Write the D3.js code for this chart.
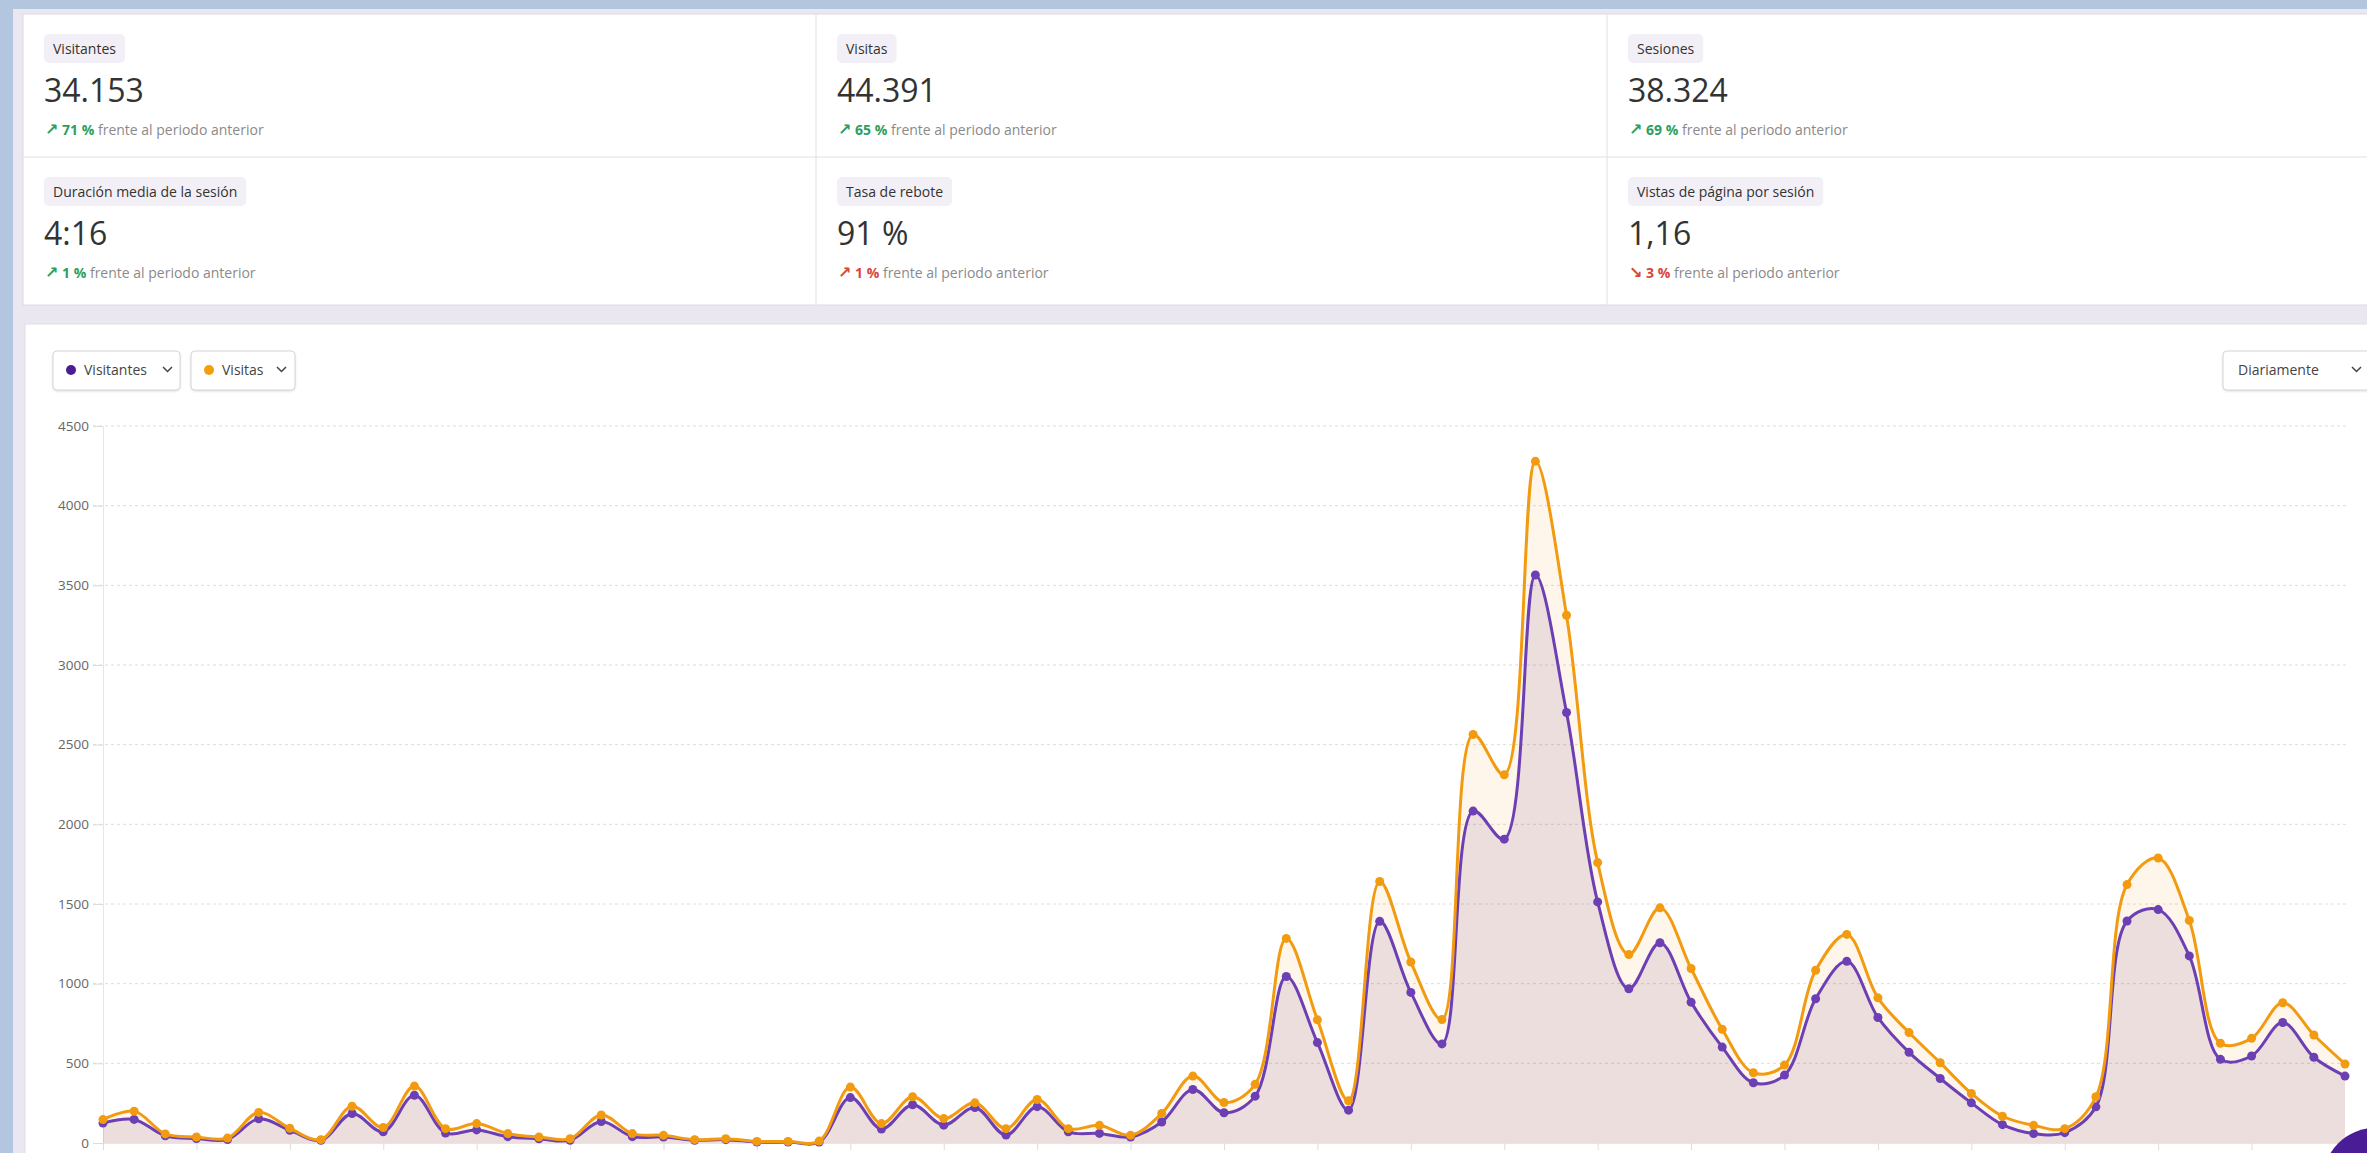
<!DOCTYPE html>
<html>
<head>
<meta charset="utf-8">
<script src="https://cdn.jsdelivr.net/npm/d3@7"></script>
<style>
html, body { margin: 0; padding: 0; background: #b3c6df; overflow: hidden; }
svg { display: block; font-family: "Open Sans", "Noto Sans", sans-serif; }
</style>
</head>
<body>
<svg width="2367" height="1153"></svg>
<script>
// daily values
var days = [1,2,3,4,5,6,7,8,9,10,11,12,13,14,15,16,17,18,19,20,21,22,23,24,25,26,27,28,29,30,
  31,32,33,34,35,36,37,38,39,40,41,42,43,44,45,46,47,48,49,50,51,52,53,54,55,56,57,58,59,60,
  61,62,63,64,65,66,67,68,69,70,71,72,73];

var visitantes = [125,148,45,28,22,152,80,17,185,70,300,63,82,40,27,17,135,40,38,17,
  21,6,6,6,285,88,240,112,223,50,228,70,60,38,132,336,190,294,1045,630,
  206,1391,945,622,2083,1907,3565,2702,1513,968,1257,884,602,378,426,905,1140,788,569,405,
  252,115,59,65,227,1393,1465,1174,525,546,756,538,420];

var visitas = [147,200,57,38,31,192,92,21,231,97,357,90,122,59,38,27,176,59,48,21,
  27,10,10,12,351,122,290,153,252,90,273,90,111,48,185,420,254,368,1284,773,
  265,1641,1136,775,2564,2311,4278,3312,1760,1183,1476,1095,714,441,489,1084,1309,911,693,504,
  311,168,111,90,290,1622,1789,1397,626,657,880,678,496];

var yTicks = [0,500,1000,1500,2000,2500,3000,3500,4000,4500];

var kpiLabels = ["Visitantes","Visitas","Sesiones","Duración media de la sesión","Tasa de rebote","Vistas de página por sesión"];
var kpiValues = ["34.153","44.391","38.324","4:16","91 %","1,16"];
var kpiChange = ["71 %","65 %","69 %","1 %","1 %","3 %"];
var kpiUp = [true,true,true,true,true,false];
var kpiGood = [true,true,true,true,false,false];

var purple = "#6c3fb4",
    orange = "#f29b11";

var svg = d3.select("svg");

// page frame
svg.append("rect").attr("x", 13).attr("y", 9).attr("width", 2400).attr("height", 1200).attr("fill", "#ebe7f1");

// ---- KPI cards ----
var cardX = [23, 816, 1607],
    rowY = [14, 157];

svg.append("rect")
    .attr("x", 23).attr("y", 14).attr("width", 2400).attr("height", 291)
    .attr("fill", "#fff").attr("stroke", "#dedae5");
svg.append("line").attr("x1", 23).attr("x2", 2400).attr("y1", 157).attr("y2", 157).attr("stroke", "#e2dee8");
[816, 1607].forEach(function(xx) {
    svg.append("line").attr("x1", xx).attr("x2", xx).attr("y1", 14).attr("y2", 305).attr("stroke", "#e2dee8");
});

kpiLabels.forEach(function(label, i) {
    var col = i % 3, row = Math.floor(i / 3);
    var g = svg.append("g")
        .attr("transform", "translate(" + (cardX[col] + 21) + "," + rowY[row] + ")");

    var pill = g.append("rect")
        .attr("y", 20).attr("height", 29).attr("rx", 5)
        .attr("fill", "#f2f0f6");
    var t = g.append("text")
        .attr("x", 9).attr("y", 40)
        .attr("font-size", 14).attr("fill", "#333")
        .text(label);
    pill.attr("width", t.node().getComputedTextLength() + 18);

    g.append("text")
        .attr("x", 0).attr("y", 88)
        .attr("font-size", 32).attr("fill", "#333")
        .text(kpiValues[i]);

    var col2 = kpiGood[i] ? "#2c9f5e" : "#d9463b";
    var ch = g.append("text").attr("x", 1).attr("y", 121).attr("font-size", 14);
    ch.append("tspan").attr("fill", col2).attr("font-family", "DejaVu Sans")
        .attr("font-size", 16).attr("font-weight", 700)
        .text(kpiUp[i] ? "↗" : "↘");
    ch.append("tspan").attr("fill", col2).attr("font-weight", 700).text(" " + kpiChange[i]);
    ch.append("tspan").attr("fill", "#8a8a8a").text(" frente al periodo anterior");
});

// ---- chart card ----
svg.append("rect")
    .attr("x", 25).attr("y", 324).attr("width", 2400).attr("height", 900)
    .attr("fill", "#fff").attr("stroke", "#e2dee8");

function button(x0, w, label, dot, chevX) {
    var b = svg.append("g");
    b.append("rect")
        .attr("x", x0).attr("y", 351).attr("width", w).attr("height", 39).attr("rx", 4)
        .attr("fill", "#fff").attr("stroke", "#d6d6d6")
        .style("filter", "drop-shadow(0px 1px 1px rgba(0,0,0,0.12))");
    var tx = x0 + 15;
    if (dot) {
        b.append("circle").attr("cx", x0 + 18).attr("cy", 370).attr("r", 5).attr("fill", dot);
        tx = x0 + 31;
    }
    b.append("text").attr("x", tx).attr("y", 375)
        .attr("font-size", 14).attr("fill", "#444").text(label);
    b.append("path")
        .attr("d", "M" + chevX + ",367 l4.5,4.5 l4.5,-4.5")
        .attr("fill", "none").attr("stroke", "#444").attr("stroke-width", 1.5);
}
button(53, 127, "Visitantes", "#4a1d96", 163);
button(191, 104, "Visitas", "#f59e0b", 277);
button(2223, 170, "Diariamente", null, 2352);

// ---- plot ----
var x = d3.scalePoint().domain(days).range([103, 2345]);
var y = d3.scaleLinear().domain([0, 4500]).range([1143, 426]);

var grid = svg.append("g");
grid.selectAll("line")
    .data(yTicks.filter(function(d) { return d > 0; }))
    .enter().append("line")
    .attr("x1", 93).attr("x2", 2347)
    .attr("y1", function(d) { return y(d); })
    .attr("y2", function(d) { return y(d); })
    .attr("stroke", "#dcdcdc")
    .attr("stroke-dasharray", "3,3");

var yAxis = svg.append("g")
    .attr("transform", "translate(103,0)")
    .call(d3.axisLeft(y).tickValues(yTicks).tickSize(10).tickPadding(4).tickFormat(d3.format("d")));
yAxis.select(".domain").attr("stroke", "#e6e6e6");
yAxis.selectAll(".tick line").attr("stroke", "#dcdcdc");
yAxis.selectAll("text")
    .attr("font-family", "Open Sans, sans-serif")
    .attr("font-size", 13.5).attr("fill", "#666");

var xAxis = svg.append("g")
    .attr("transform", "translate(0," + y(0) + ")")
    .call(d3.axisBottom(x)
        .tickValues(days.filter(function(d, i) { return i % 3 === 0; }))
        .tickSize(7).tickFormat(""));
xAxis.select(".domain").attr("stroke", "#e6e6e6");
xAxis.selectAll(".tick line").attr("stroke", "#dcdcdc");

var curve = d3.curveCatmullRom.alpha(0.5);

function area(vals) {
    return d3.area()
        .x(function(d, i) { return x(days[i]); })
        .y0(y(0))
        .y1(function(d) { return y(d); })
        .curve(curve)(vals);
}
function line(vals) {
    return d3.line()
        .x(function(d, i) { return x(days[i]); })
        .y(function(d) { return y(d); })
        .curve(curve)(vals);
}

svg.append("path").attr("d", area(visitas)).attr("fill", "rgba(242,155,17,0.09)");
svg.append("path").attr("d", area(visitantes)).attr("fill", "rgba(110,50,120,0.12)");

[[visitantes, purple], [visitas, orange]].forEach(function(s) {
    svg.append("path")
        .attr("d", line(s[0]))
        .attr("fill", "none")
        .attr("stroke", s[1])
        .attr("stroke-width", 3);
    svg.append("g").selectAll("circle")
        .data(s[0])
        .enter().append("circle")
        .attr("cx", function(d, i) { return x(days[i]); })
        .attr("cy", function(d) { return y(d); })
        .attr("r", 4.5)
        .attr("fill", s[1]);
});

// floating help button, bottom right corner
svg.append("circle").attr("cx", 2375).attr("cy", 1180).attr("r", 52).attr("fill", "#4a1d96");
</script>
</body>
</html>
